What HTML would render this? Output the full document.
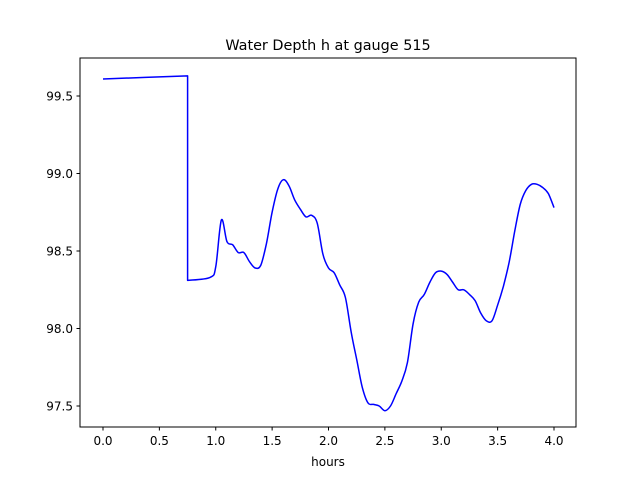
<!DOCTYPE html>
<html><head><meta charset="utf-8"><style>
body{margin:0;background:#fff;}
svg{display:block;font-family:"DejaVu Sans","Liberation Sans",sans-serif;}
</style></head><body>
<svg id="chart" width="640" height="480">
<rect x="0" y="0" width="640" height="480" fill="#fff"/>
<text x="328" y="50" font-size="14.4" text-anchor="middle">Water Depth h at gauge 515</text>
<g id="plot"></g>
<rect x="80" y="58" width="496" height="369" fill="none" stroke="#000" stroke-width="1"/>
<text x="328" y="466" font-size="12" text-anchor="middle">hours</text>
</svg>
<script>
const hours=[0,0.75,0.75,0.95,1.0,1.05,1.1,1.15,1.2,1.25,1.3,1.35,1.4,1.45,1.5,1.55,1.6,1.65,1.7,1.75,1.8,1.85,1.9,1.95,2.0,2.05,2.1,2.15,2.2,2.25,2.3,2.35,2.4,2.45,2.5,2.55,2.6,2.65,2.7,2.75,2.8,2.85,2.9,2.95,3.0,3.05,3.1,3.15,3.2,3.25,3.3,3.35,3.4,3.45,3.5,3.55,3.6,3.65,3.7,3.75,3.8,3.85,3.9,3.95,4.0];
const depth=[99.61,99.63,98.31,98.33,98.40,98.70,98.56,98.54,98.49,98.49,98.43,98.39,98.41,98.55,98.75,98.90,98.96,98.92,98.83,98.77,98.72,98.73,98.68,98.48,98.39,98.36,98.28,98.20,97.98,97.80,97.62,97.52,97.51,97.50,97.47,97.50,97.58,97.66,97.78,98.03,98.17,98.22,98.30,98.36,98.37,98.35,98.30,98.25,98.25,98.22,98.18,98.10,98.05,98.05,98.15,98.27,98.42,98.62,98.80,98.89,98.93,98.93,98.91,98.87,98.78];
const xTicks=[0,0.5,1.0,1.5,2.0,2.5,3.0,3.5,4.0];
const xTickLabels=["0.0","0.5","1.0","1.5","2.0","2.5","3.0","3.5","4.0"];
const yTicks=[97.5,98.0,98.5,99.0,99.5];
const yTickLabels=["97.5","98.0","98.5","99.0","99.5"];
const NS="http://www.w3.org/2000/svg";
const xs=v=>103+v*112.75;
const ys=v=>406-(v-97.5)*155;
const g=document.getElementById('plot');
function mk(t,a){const e=document.createElementNS(NS,t);for(const k in a)e.setAttribute(k,a[k]);return e;}
xTicks.forEach((t,i)=>{
 const l=mk('line',{x1:xs(t),x2:xs(t),y1:427,y2:430.5,stroke:'#000'});
 
 
 g.appendChild(l);
 const tx=mk('text',{x:xs(t),y:445,'font-size':12,'text-anchor':'middle'});
 tx.textContent=xTickLabels[i];
 
 
 g.appendChild(tx);
});
yTicks.forEach((t,i)=>{
 const l=mk('line',{x1:76.5,x2:80,y1:ys(t),y2:ys(t),stroke:'#000'});
 
 
 g.appendChild(l);
 const tx=mk('text',{x:73,y:ys(t)+4.5,'font-size':12,'text-anchor':'end'});
 tx.textContent=yTickLabels[i];
 
 
 g.appendChild(tx);
});
// split into segments where x repeats (vertical drop), smooth each with Catmull-Rom
const P=hours.map((h,i)=>[xs(h),ys(depth[i])]);
let d='';
let seg=[P[0]];
const segs=[];
for(let i=1;i<P.length;i++){
 if(Math.abs(P[i][0]-P[i-1][0])<0.01){segs.push(seg);seg=[P[i]];}
 else seg.push(P[i]);
}
segs.push(seg);
segs.forEach((s,si)=>{
 d+=(si===0?'M':'L')+s[0][0].toFixed(1)+','+s[0][1].toFixed(1);
 for(let i=0;i<s.length-1;i++){
  const p0=s[i-1]||s[i],p1=s[i],p2=s[i+1],p3=s[i+2]||s[i+1];
  const c1=[p1[0]+(p2[0]-p0[0])/6,p1[1]+(p2[1]-p0[1])/6];
  const c2=[p2[0]-(p3[0]-p1[0])/6,p2[1]-(p3[1]-p1[1])/6];
  d+=' C'+c1[0].toFixed(1)+','+c1[1].toFixed(1)+' '+c2[0].toFixed(1)+','+c2[1].toFixed(1)+' '+p2[0].toFixed(1)+','+p2[1].toFixed(1);
 }
});
const line=mk('path',{d:d,fill:'none',stroke:'#0000ff','stroke-width':1.5,'stroke-linejoin':'round'});


g.appendChild(line);
</script>
</body></html>
